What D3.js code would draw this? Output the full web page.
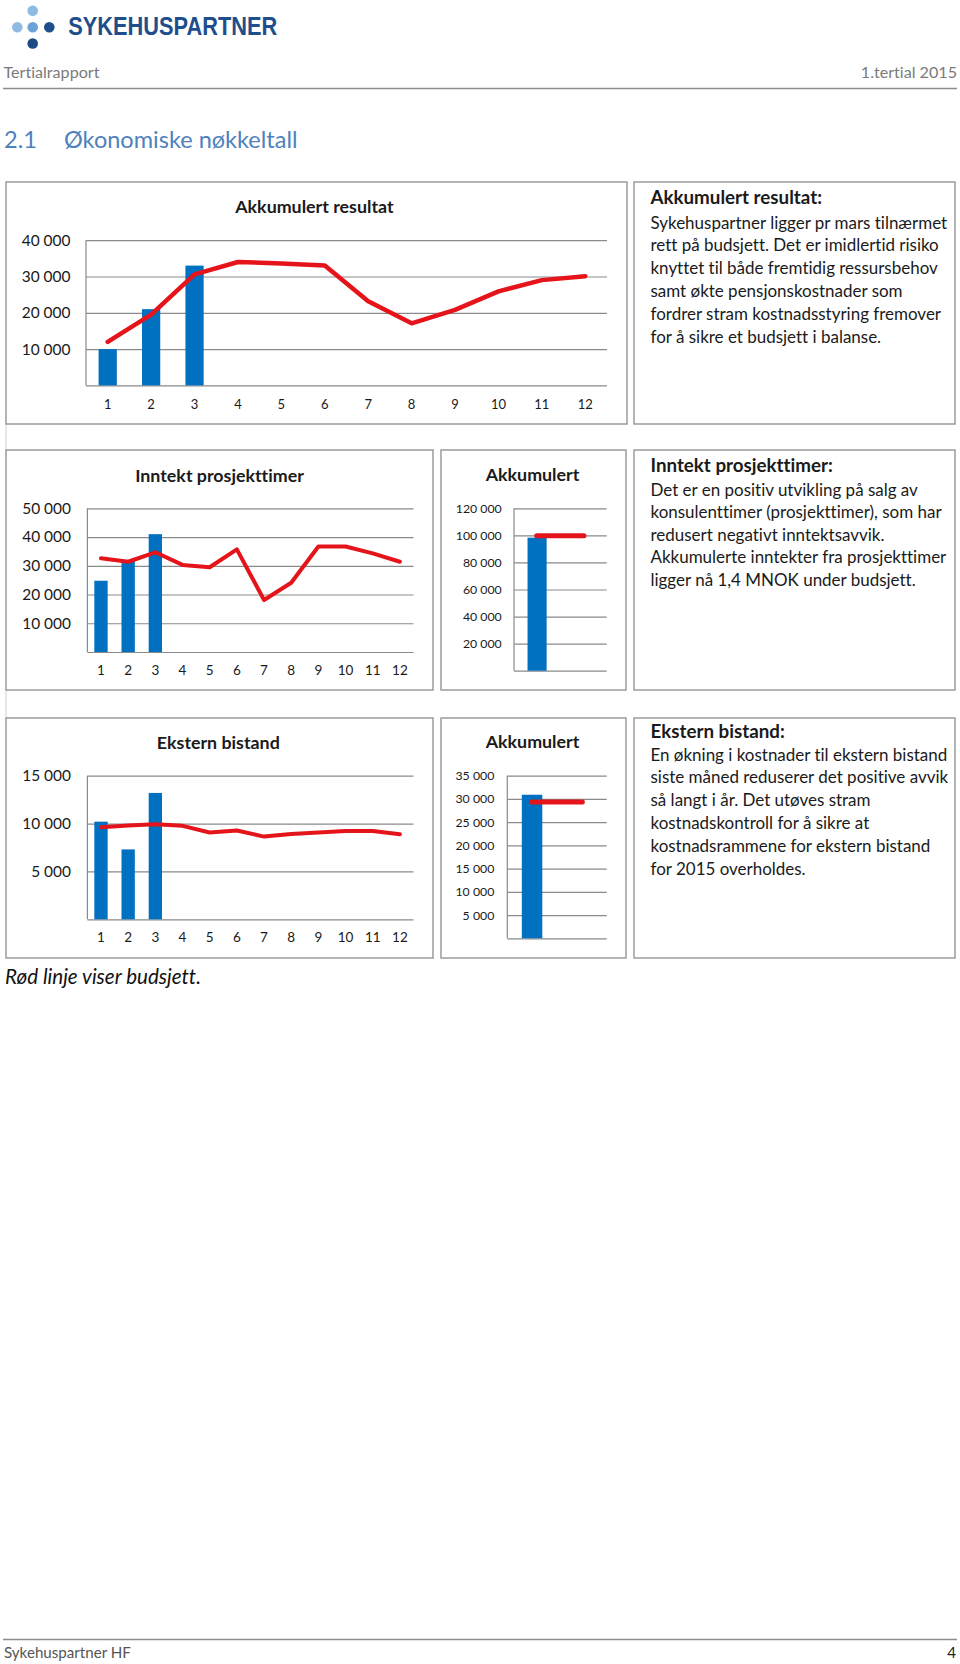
<!DOCTYPE html>
<html><head><meta charset="utf-8">
<script src="https://cdn.jsdelivr.net/npm/d3@7/dist/d3.min.js"></script>
<style>body{margin:0;background:#fff}svg{display:block}text{font-variant-ligatures:none;font-feature-settings:"liga" 0,"clig" 0}</style>
</head><body>
<svg id="page" width="960" height="1664"></svg>
<script>
// ---------------- DATA ----------------
const months = ["1","2","3","4","5","6","7","8","9","10","11","12"];

const resultatActual = [10000, 21000, 33000];
const resultatBudget = [12000, 19500, 30600, 34000, 33600, 33000, 23200, 17100, 20800, 25900, 29000, 30100];
const resultatTicks = [10000, 20000, 30000, 40000];

const prosjektActual = [24800, 31800, 41000];
const prosjektBudget = [32600, 31400, 34700, 30300, 29500, 35700, 18100, 24100, 36700, 36700, 34300, 31400];
const prosjektTicks = [10000, 20000, 30000, 40000, 50000];

const eksternActual = [10200, 7300, 13200];
const eksternBudget = [9620, 9790, 9930, 9760, 9060, 9270, 8640, 8920, 9060, 9230, 9230, 8890];
const eksternTicks = [5000, 10000, 15000];

const akkCategory = ["Akkumulert"];
const akkProsjektActual = [98300];
const akkProsjektBudget = [99700];
const akkProsjektTicks = [20000, 40000, 60000, 80000, 100000, 120000];

const akkEksternActual = [30900];
const akkEksternBudget = [29350];
const akkEksternTicks = [5000, 10000, 15000, 20000, 25000, 30000, 35000];

const chartTitles = ["Akkumulert resultat", "Inntekt prosjekttimer", "Ekstern bistand", "Akkumulert"];

const textTitles = ["Akkumulert resultat:", "Inntekt prosjekttimer:", "Ekstern bistand:"];
const text1 = ["Sykehuspartner ligger pr mars tilnærmet",
  "rett på budsjett. Det er imidlertid risiko",
  "knyttet til både fremtidig ressursbehov",
  "samt økte pensjonskostnader som",
  "fordrer stram kostnadsstyring fremover",
  "for å sikre et budsjett i balanse."];
const text2 = ["Det er en positiv utvikling på salg av",
  "konsulenttimer (prosjekttimer), som har",
  "redusert negativt inntektsavvik.",
  "Akkumulerte inntekter fra prosjekttimer",
  "ligger nå 1,4 MNOK under budsjett."];
const text3 = ["En økning i kostnader til ekstern bistand",
  "siste måned reduserer det positive avvik",
  "så langt i år. Det utøves stram",
  "kostnadskontroll for å sikre at",
  "kostnadsrammene for ekstern bistand",
  "for 2015 overholdes."];

// ---------------- STYLE ----------------
const FONT = "Lato, 'Open Sans', sans-serif";
const BLUE = "#0070c0";
const RED = "#e5141b";
const GRID = "#8a8a8a";
const BOX = "#949494";
const fmt = d3.formatLocale({decimal: ",", thousands: " ", grouping: [3], currency: ["", ""]}).format(",d");

const svg = d3.select("#page");

function fitSize(text, size, weight, style, target) {
  const t = svg.append("text").attr("font-family", FONT).attr("font-size", size)
    .attr("font-weight", weight).attr("font-style", style).text(text);
  const w = t.node().getComputedTextLength();
  t.remove();
  return size * target / w;
}

function box(x0, y0, x1, y1) {
  svg.append("rect").attr("x", x0).attr("y", y0).attr("width", x1 - x0).attr("height", y1 - y0)
    .attr("fill", "#fff").attr("stroke", BOX).attr("stroke-width", 1.4);
}

function txt(x, y, s, size, opts = {}) {
  return svg.append("text").attr("x", x).attr("y", y).attr("font-family", FONT)
    .attr("font-size", size).attr("font-weight", opts.weight || "normal")
    .attr("font-style", opts.style || "normal").attr("fill", opts.fill || "#1a1a1a")
    .attr("text-anchor", opts.anchor || "start").text(s);
}

// ---------------- HEADER ----------------
const dots = [[32.7, 10.7, "#8fbbe3"], [17.3, 27.3, "#8fbbe3"], [32.7, 27.3, "#6aa3d8"], [49.3, 27.3, "#1f4e8c"], [32.7, 43.5, "#1c4a86"]];
dots.forEach(d => svg.append("circle").attr("cx", d[0]).attr("cy", d[1]).attr("r", 5.3).attr("fill", d[2]));
svg.append("text").attr("x", 68.3).attr("y", 34.5).attr("font-family", "'Liberation Sans', Arial, sans-serif")
  .attr("font-weight", "bold").attr("font-size", 25).attr("fill", "#1f4e8c")
  .attr("textLength", 209).attr("lengthAdjust", "spacingAndGlyphs").text("SYKEHUSPARTNER");

const hdrSize = fitSize("Tertialrapport", 15, "normal", "normal", 96);
txt(3.5, 78, "Tertialrapport", hdrSize, {fill: "#7a7a7a"});
txt(957, 78, "1.tertial 2015", hdrSize, {fill: "#7a7a7a", anchor: "end"});
svg.append("line").attr("x1", 3).attr("x2", 957).attr("y1", 88.5).attr("y2", 88.5).attr("stroke", "#8c8c8c").attr("stroke-width", 1.3);

const h1Size = fitSize("Økonomiske nøkkeltall", 24, "normal", "normal", 233.7);
txt(4, 147.5, "2.1", h1Size, {fill: "#4f81bd"});
txt(64, 147.5, "Økonomiske nøkkeltall", h1Size, {fill: "#4f81bd"});

// ---------------- BOXES ----------------
svg.append("line").attr("x1", 6).attr("x2", 6).attr("y1", 424).attr("y2", 450).attr("stroke", "#cfcfcf");
svg.append("line").attr("x1", 6).attr("x2", 6).attr("y1", 690).attr("y2", 718).attr("stroke", "#cfcfcf");
box(6, 182, 627, 424); box(634, 182, 955, 424);
box(6, 450, 433, 690); box(441, 450, 626, 690); box(634, 450, 955, 690);
box(6, 718, 433, 958); box(441, 718, 626, 958); box(634, 718, 955, 958);

const titleSize = fitSize(chartTitles[0], 17, "bold", "normal", 158.4);
const yLabSize = fitSize(fmt(40000), 15, "normal", "normal", 48.8);
const ySmallSize = fitSize(fmt(120000), 13, "normal", "normal", 46);

function monthChart(o) {
  const g = svg.append("g");
  const x = d3.scaleBand().domain(months).range([o.left, o.right]);
  const y = d3.scaleLinear().domain([0, o.max]).range([o.bottom, o.top]);
  g.append("g").attr("transform", `translate(${o.left},0)`)
    .call(d3.axisLeft(y).tickValues([0, ...o.ticks]).tickSize(-(o.right - o.left)).tickFormat(""))
    .call(a => a.select(".domain").remove())
    .call(a => a.selectAll("line").attr("stroke", GRID).attr("stroke-width", 1.2));
  g.append("line").attr("x1", o.left).attr("x2", o.left).attr("y1", y(0)).attr("y2", y(o.max))
    .attr("stroke", GRID).attr("stroke-width", 1.2);
  g.append("g").attr("transform", `translate(${o.left},0)`)
    .call(d3.axisLeft(y).tickValues(o.ticks).tickSize(0).tickPadding(o.pad).tickFormat(fmt))
    .call(a => a.select(".domain").remove())
    .selectAll("text").attr("font-family", FONT).attr("font-size", yLabSize).attr("fill", "#1a1a1a");
  g.append("g").attr("transform", `translate(0,${o.xLabelY})`)
    .call(d3.axisBottom(x).tickSize(0).tickPadding(0))
    .call(a => a.select(".domain").remove())
    .selectAll("text").attr("dy", "0.35em").attr("font-family", FONT).attr("font-size", o.xFont).attr("fill", "#1a1a1a");
  g.selectAll("rect.bar").data(o.actual).join("rect").attr("class", "bar")
    .attr("x", (d, i) => x(months[i]) + x.bandwidth() * (1 - o.barFrac) / 2)
    .attr("width", x.bandwidth() * o.barFrac)
    .attr("y", d => y(d)).attr("height", d => y(0) - y(d)).attr("fill", BLUE);
  const line = d3.line().x((d, i) => x(months[i]) + x.bandwidth() / 2).y(d => y(d));
  g.append("path").datum(o.budget).attr("d", line).attr("fill", "none").attr("stroke", RED)
    .attr("stroke-width", o.lw).attr("stroke-linejoin", "round").attr("stroke-linecap", "round");
  txt(o.titleX, o.titleY, o.title, titleSize, {weight: "bold", anchor: "middle"});
}

function akkChart(o) {
  const g = svg.append("g");
  const x = d3.scaleBand().domain(akkCategory).range([o.left, o.right]);
  const y = d3.scaleLinear().domain([0, o.max]).range([o.bottom, o.top]);
  const bw = x.bandwidth();
  g.append("g").attr("transform", `translate(${o.left},0)`)
    .call(d3.axisLeft(y).tickValues([0, ...o.ticks]).tickSize(-(o.right - o.left)).tickFormat(""))
    .call(a => a.select(".domain").remove())
    .call(a => a.selectAll("line").attr("stroke", GRID).attr("stroke-width", 1.2));
  g.append("line").attr("x1", o.left).attr("x2", o.left).attr("y1", y(0)).attr("y2", y(o.max))
    .attr("stroke", GRID).attr("stroke-width", 1.2);
  g.append("g").attr("transform", `translate(${o.left},0)`)
    .call(d3.axisLeft(y).tickValues(o.ticks).tickSize(0).tickPadding(o.pad).tickFormat(fmt))
    .call(a => a.select(".domain").remove())
    .selectAll("text").attr("font-family", FONT).attr("font-size", ySmallSize).attr("fill", "#1a1a1a");
  g.selectAll("rect.bar").data(o.actual).join("rect").attr("class", "bar")
    .attr("x", (d, i) => x(akkCategory[i]) + bw * 0.146).attr("width", bw * 0.206)
    .attr("y", d => y(d)).attr("height", d => y(0) - y(d)).attr("fill", BLUE);
  g.selectAll("line.budget").data(o.budget).join("line").attr("class", "budget")
    .attr("x1", (d, i) => x(akkCategory[i]) + bw * 0.245).attr("x2", (d, i) => x(akkCategory[i]) + bw * 0.755)
    .attr("y1", d => y(d)).attr("y2", d => y(d))
    .attr("stroke", RED).attr("stroke-width", 5).attr("stroke-linecap", "round");
  txt(532.5, o.titleY, chartTitles[3], titleSize, {weight: "bold", anchor: "middle"});
}

monthChart({left: 86, right: 607, top: 240.2, bottom: 385.4, max: 40000, ticks: resultatTicks,
  actual: resultatActual, budget: resultatBudget, barFrac: 0.42, pad: 15.5, xLabelY: 404, xFont: 13,
  lw: 4.5, title: chartTitles[0], titleX: 314.4, titleY: 213});
monthChart({left: 87.4, right: 413.5, top: 508.3, bottom: 652, max: 50000, ticks: prosjektTicks,
  actual: prosjektActual, budget: prosjektBudget, barFrac: 0.49, pad: 16.4, xLabelY: 670, xFont: 13.5,
  lw: 4, title: chartTitles[1], titleX: 219.5, titleY: 482});
monthChart({left: 87.4, right: 413.5, top: 775.7, bottom: 919.3, max: 15000, ticks: eksternTicks,
  actual: eksternActual, budget: eksternBudget, barFrac: 0.49, pad: 16.4, xLabelY: 937.7, xFont: 13.5,
  lw: 4, title: chartTitles[2], titleX: 218.3, titleY: 748.5});

akkChart({left: 514, right: 606.7, top: 508.3, bottom: 670.7, max: 120000, ticks: akkProsjektTicks,
  actual: akkProsjektActual, budget: akkProsjektBudget, pad: 12.3, titleY: 481});
akkChart({left: 507.3, right: 606.7, top: 775.7, bottom: 938.3, max: 35000, ticks: akkEksternTicks,
  actual: akkEksternActual, budget: akkEksternBudget, pad: 13, titleY: 747.5});

// ---------------- TEXT BOXES ----------------
const bodySize = fitSize(text1[0], 15, "normal", "normal", 297);
const bodyTitleSize = fitSize(textTitles[0], 16, "bold", "normal", 171.6);
function textBox(title, lines, titleY, firstY, step) {
  txt(650.5, titleY, title, bodyTitleSize, {weight: "bold"});
  lines.forEach((l, i) => txt(650.5, firstY + i * step, l, bodySize));
}
textBox(textTitles[0], text1, 204, 228.5, 22.8);
textBox(textTitles[1], text2, 471.5, 495.5, 22.5);
textBox(textTitles[2], text3, 738, 760.5, 22.9);

// ---------------- NOTE & FOOTER ----------------
const noteSize = fitSize("Rød linje viser budsjett.", 18, "normal", "italic", 196);
txt(5, 984, "Rød linje viser budsjett.", noteSize, {style: "italic", fill: "#111"});

svg.append("line").attr("x1", 3).attr("x2", 957).attr("y1", 1639.5).attr("y2", 1639.5).attr("stroke", "#8c8c8c").attr("stroke-width", 1.3);
const footSize = fitSize("Sykehuspartner HF", 15, "normal", "normal", 127);
txt(4, 1658, "Sykehuspartner HF", footSize, {fill: "#555"});
txt(956, 1658, "4", footSize, {fill: "#222", anchor: "end"});
</script>
</body></html>
